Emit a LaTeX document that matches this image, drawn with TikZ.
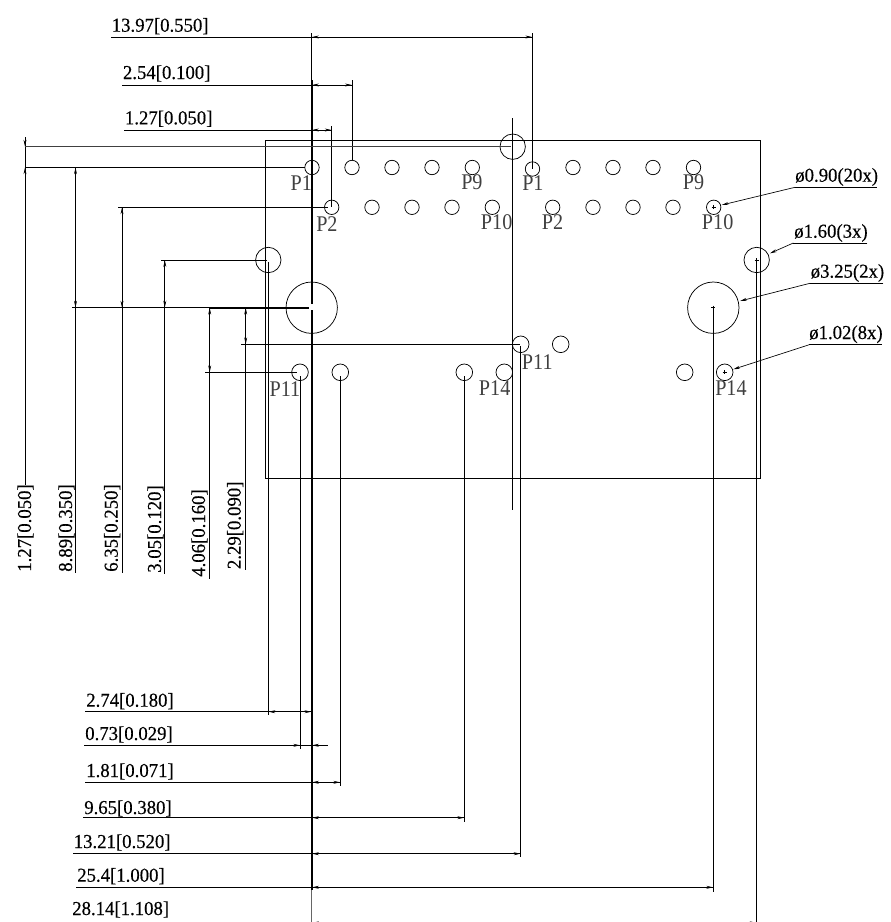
\documentclass[tikz,border=0pt]{standalone}
\usepackage{fontspec}
\setmainfont{Liberation Serif}
\newfontfamily\dimfont[FakeBold=0.3,FakeStretch=0.95]{Liberation Serif}
\newfontfamily\pinfont[FakeStretch=0.9]{Liberation Serif}
\usetikzlibrary{arrows.meta}
\tikzset{
  hole/.style={draw=black,line width=.55pt},
  dimline/.style={draw=black,line width=.6pt},
  centreline/.style={draw=black,line width=1.5pt},
  dimtip/.style={draw=black,line width=.5pt,-{Stealth[length=5pt,width=2.2pt]}},
  dimtext/.style={inner sep=0pt,anchor=base west,font=\dimfont\fontsize{14.8}{14.8}\selectfont},
  sidetext/.style={dimtext,rotate=90},
  pintext/.style={inner sep=0pt,anchor=base west,text=black!75,font=\pinfont\fontsize{16.8}{16.8}\selectfont}
}
\begin{document}
\begin{tikzpicture}[x=.75pt,y=-.75pt]
  \useasboundingbox (0,0) rectangle (891,922);
  \draw [line width=.75pt,black] (265.5,140) rectangle (760,478);

  % first row of holes
  \draw [hole] (312,167.5) circle (7.2);
  \draw [hole] (352,167.5) circle (7.2);
  \draw [hole] (392,167.5) circle (7.2);
  \draw [hole] (432,167.5) circle (7.2);
  \draw [hole] (472.3,167.5) circle (7.2);
  \draw [hole] (532.5,169) circle (7.2);
  \draw [hole] (573,167.5) circle (7.2);
  \draw [hole] (613,167.5) circle (7.2);
  \draw [hole] (653,167.5) circle (7.2);
  \draw [hole] (693.5,167.5) circle (7.2);
  % second row of holes
  \draw [hole] (331.7,207.3) circle (7.2);
  \draw [hole] (372,207.3) circle (7.2);
  \draw [hole] (412,207.3) circle (7.2);
  \draw [hole] (452,207.3) circle (7.2);
  \draw [hole] (492.3,207.3) circle (7.2);
  \draw [hole] (552.7,207.3) circle (7.2);
  \draw [hole] (593,207.3) circle (7.2);
  \draw [hole] (633,207.3) circle (7.2);
  \draw [hole] (673,207.3) circle (7.2);
  \draw [hole] (713.7,207.3) circle (7.2);
  % lower holes
  \draw [hole] (520.7,344.3) circle (8.3);
  \draw [hole] (560.7,344.3) circle (8.3);
  \draw [hole] (300,372.3) circle (8.3);
  \draw [hole] (340.3,372.3) circle (8.3);
  \draw [hole] (464.3,372.3) circle (8.3);
  \draw [hole] (504.3,372.3) circle (8.3);
  \draw [hole] (684.7,372.3) circle (8.3);
  \draw [hole] (724.7,372.3) circle (8.3);
  % large holes
  \draw [hole] (512.7,146.7) circle (12.7);
  \draw [hole] (268.3,260) circle (12.7);
  \draw [hole] (756.7,260) circle (12.7);
  \draw [hole] (311.7,307.7) circle (25.7);
  \draw [hole] (713.3,307.7) circle (25.7);
  % small crosses
  \draw [line width=.5pt] (711.7,207.3) -- (715.7,207.3) (713.7,205.3) -- (713.7,209.3);
  \draw [line width=.5pt] (754.7,260) -- (758.7,260) (756.7,258) -- (756.7,262);
  \draw [line width=.5pt] (711.3,307.7) -- (715.3,307.7) (713.3,305.7) -- (713.3,309.7);
  \draw [line width=.5pt] (722.7,372.3) -- (726.7,372.3) (724.7,370.3) -- (724.7,374.3);

  % datum lines
  \draw [dimline] (311.7,33) -- (311.7,80);
  \draw [centreline] (311.7,80) -- (311.7,304);
  \draw [centreline] (311.7,310) -- (311.7,890);
  \draw [dimline,draw=black!60] (311.7,890) -- (311.7,922);
  \draw [dimline] (512.7,118) -- (512.7,510);

  % top dimensions
  \draw [dimline] (111,37) -- (532.3,37);
  \draw [dimline] (532.3,33) -- (532.3,169);
  \draw [dimtip] (322,37) -- (312.2,37);
  \draw [dimtip] (522,37) -- (532,37);
  \node [dimtext] (dimA) at (111.5,31.7) {13.97[0.550]};
  \draw [dimline] (122,85) -- (352,85);
  \draw [dimline] (352,80) -- (352,160);
  \draw [dimtip] (322,85) -- (312.2,85);
  \draw [dimtip] (342,85) -- (351.7,85);
  \node [dimtext] (dimB) at (122.7,79) {2.54[0.100]};
  \draw [dimline] (124,130) -- (331.7,130);
  \draw [dimline] (331.7,126) -- (331.7,207.3);
  \draw [dimtip] (322,130) -- (312.2,130);
  \draw [dimtip] (322,130) -- (331.4,130);
  \node [dimtext] (dimC) at (124.7,124.3) {1.27[0.050]};

  % left dimensions
  \draw [dimline] (25,137) -- (25,485);
  \draw [dimline,draw=black!75] (25,146.7) -- (511,146.7);
  \draw [dimline] (25,167.3) -- (305,167.3);
  \draw [dimtip] (25,138) -- (25,146.4);
  \draw [dimtip] (25,176) -- (25,167.6);
  \node [sidetext] (dimD) at (31,572) {1.27[0.050]};
  \draw [dimline] (75.5,167.3) -- (75.5,572.7);
  \draw [dimtip] (75.5,177) -- (75.5,167.6);
  \draw [dimtip] (75.5,298) -- (75.5,307.4);
  \node [sidetext] (dimE) at (72,572) {8.89[0.350]};
  \draw [dimline] (118,207.3) -- (328,207.3);
  \draw [dimline] (122,207.3) -- (122,572.7);
  \draw [dimtip] (122,217) -- (122,207.6);
  \draw [dimtip] (122,298) -- (122,307.4);
  \node [sidetext] (dimF) at (117.7,572) {6.35[0.250]};
  \draw [dimline] (161,260) -- (267,260);
  \draw [dimline] (164.8,260) -- (164.8,574);
  \draw [dimtip] (164.8,270) -- (164.8,260.3);
  \draw [dimtip] (164.8,298) -- (164.8,307.4);
  \node [sidetext] (dimG) at (161,573) {3.05[0.120]};
  \draw [dimline] (72,307.7) -- (210,307.7);
  \draw [line width=1.2pt] (210,307.7) -- (309,307.7);
  \draw [dimline] (205,372.3) -- (297,372.3);
  \draw [dimline] (209.7,307.7) -- (209.7,579);
  \draw [dimtip] (209.7,318) -- (209.7,308);
  \draw [dimtip] (209.7,362) -- (209.7,372);
  \node [sidetext] (dimH) at (205,577) {4.06[0.160]};
  \draw [dimline] (241,344.3) -- (520,344.3);
  \draw [dimline] (245.7,307.7) -- (245.7,570);
  \draw [dimtip] (245.7,318) -- (245.7,308);
  \draw [dimtip] (245.7,334) -- (245.7,344);
  \node [sidetext] (dimI) at (240.7,569.3) {2.29[0.090]};

  % bottom dimensions
  \draw [dimline] (268.3,262) -- (268.3,715);
  \draw [dimline] (85,711.7) -- (311.7,711.7);
  \draw [dimtip] (278,711.7) -- (268.6,711.7);
  \draw [dimtip] (302,711.7) -- (311.2,711.7);
  \node [dimtext] (dimJ) at (86,706.7) {2.74[0.180]};
  \draw [dimline] (300.3,376) -- (300.3,749);
  \draw [dimline] (84,745.3) -- (327.7,745.3);
  \draw [dimtip] (291,745.3) -- (300,745.3);
  \draw [dimtip] (321,745.3) -- (312.2,745.3);
  \node [dimtext] (dimK) at (85,740) {0.73[0.029]};
  \draw [dimline] (340.3,376) -- (340.3,786);
  \draw [dimline] (85,782.3) -- (340.3,782.3);
  \draw [dimtip] (322,782.3) -- (312.2,782.3);
  \draw [dimtip] (330,782.3) -- (340,782.3);
  \node [dimtext] (dimL) at (86,777) {1.81[0.071]};
  \draw [dimline] (464.3,376) -- (464.3,821.7);
  \draw [dimline] (83,817.7) -- (464.3,817.7);
  \draw [dimtip] (322,817.7) -- (312.2,817.7);
  \draw [dimtip] (454,817.7) -- (464,817.7);
  \node [dimtext] (dimM) at (84,814) {9.65[0.380]};
  \draw [dimline] (520.7,346) -- (520.7,857.3);
  \draw [dimline] (73,853.7) -- (520.7,853.7);
  \draw [dimtip] (322,853.7) -- (312.2,853.7);
  \draw [dimtip] (510,853.7) -- (520.4,853.7);
  \node [dimtext] (dimN) at (73.5,848) {13.21[0.520]};
  \draw [dimline] (713.3,309) -- (713.3,891.7);
  \draw [dimline] (76,887.3) -- (713.3,887.3);
  \draw [dimtip] (322,887.3) -- (312.2,887.3);
  \draw [dimtip] (703,887.3) -- (713,887.3);
  \node [dimtext] (dimO) at (77,881.7) {25.4[1.000]};
  \draw [dimline] (756.7,260) -- (756.7,922);
  \draw [dimtip] (322,922.8) -- (312.2,922.8);
  \draw [dimtip] (746,922.8) -- (756.4,922.8);
  \node [dimtext] (dimP) at (72,915) {28.14[1.108]};

  % diameter leaders
  \draw [dimline] (876.7,187.3) -- (795,187.3);
  \draw [dimtip] (795,187.3) -- (721.7,205);
  \node [dimtext] (dimQ) at (795,181.7) {ø0.90(20x)};
  \draw [dimline] (867.3,243) -- (793.3,243);
  \draw [dimtip] (793.3,243) -- (770,253.3);
  \node [dimtext] (dimR) at (794,237.7) {ø1.60(3x)};
  \draw [dimline] (883.3,283.3) -- (810,283.3);
  \draw [dimtip] (810,283.3) -- (740,301);
  \node [dimtext] (dimS) at (810.5,277.7) {ø3.25(2x)};
  \draw [dimline] (881.7,344.7) -- (809.3,344.7);
  \draw [dimtip] (809.3,344.7) -- (733.3,369.3);
  \node [dimtext] (dimT) at (809,339) {ø1.02(8x)};

  % pin labels
  \node [pintext] (pinA) at (290.3,190) {P1};
  \node [pintext] (pinB) at (316,231.7) {P2};
  \node [pintext] (pinC) at (461,189.3) {P9};
  \node [pintext] (pinD) at (522,190.7) {P1};
  \node [pintext] (pinE) at (682.7,189.7) {P9};
  \node [pintext] (pinF) at (480.7,229.3) {P10};
  \node [pintext] (pinG) at (541.7,229.7) {P2};
  \node [pintext] (pinH) at (701.7,229.7) {P10};
  \node [pintext] (pinI) at (521.7,369.3) {P11};
  \node [pintext] (pinJ) at (269.3,396.7) {P11};
  \node [pintext] (pinK) at (478.7,395.7) {P14};
  \node [pintext] (pinL) at (715,395.7) {P14};
\end{tikzpicture}
\end{document}
